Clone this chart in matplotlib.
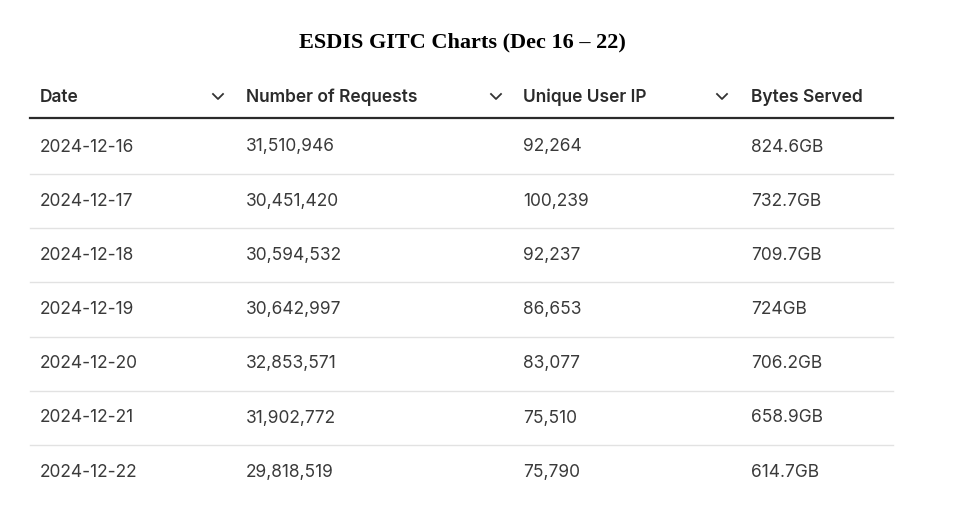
import matplotlib
matplotlib.use("Agg")
import matplotlib.pyplot as plt

title = "ESDIS GITC Charts (Dec 16 – 22)"
headers = ["Date", "Number of Requests", "Unique User IP", "Bytes Served"]
dates = ["2024-12-16", "2024-12-17", "2024-12-18", "2024-12-19", "2024-12-20", "2024-12-21", "2024-12-22"]
requests = ["31,510,946", "30,451,420", "30,594,532", "30,642,997", "32,853,571", "31,902,772", "29,818,519"]
unique_ips = ["92,264", "100,239", "92,237", "86,653", "83,077", "75,510", "75,790"]
bytes_served = ["824.6GB", "732.7GB", "709.7GB", "724GB", "706.2GB", "658.9GB", "614.7GB"]

W, H = 955, 532
fig = plt.figure(figsize=(W/100, H/100), dpi=100)
ax = fig.add_axes([0, 0, 1, 1])
ax.set_xlim(0, W); ax.set_ylim(H, 0); ax.axis("off")

ax.text(462, 42, title, ha="center", va="center", fontsize=16, fontweight="bold",
        family="Liberation Serif", color="black")

col_x = [40, 246, 523, 751]
chev_x = [218, 496, 722]
hy = 97
for x, h in zip(col_x, headers):
    ax.text(x, hy, h, ha="left", va="center", fontsize=12.5, fontweight="semibold",
            family="Inter", color="#2b2b2b")
for cx in chev_x:
    ax.plot([cx-5, cx, cx+5], [hy-3, hy+2, hy-3], color="#333333", lw=1.3)
ax.plot([30, 893], [118, 118], color="#2b2b2b", lw=1.6)

rows = list(zip(dates, requests, unique_ips, bytes_served))
y0, dy = 147, 54.2
for i, r in enumerate(rows):
    y = y0 + i*dy
    for x, v in zip(col_x, r):
        ax.text(x, y, v, ha="left", va="center", fontsize=12.5, family="Inter", color="#3a3a3a")
    if i < len(rows)-1:
        ax.plot([30, 893], [y+27, y+27], color="#e2e2e2", lw=1)

fig.savefig("out.png", dpi=100)
